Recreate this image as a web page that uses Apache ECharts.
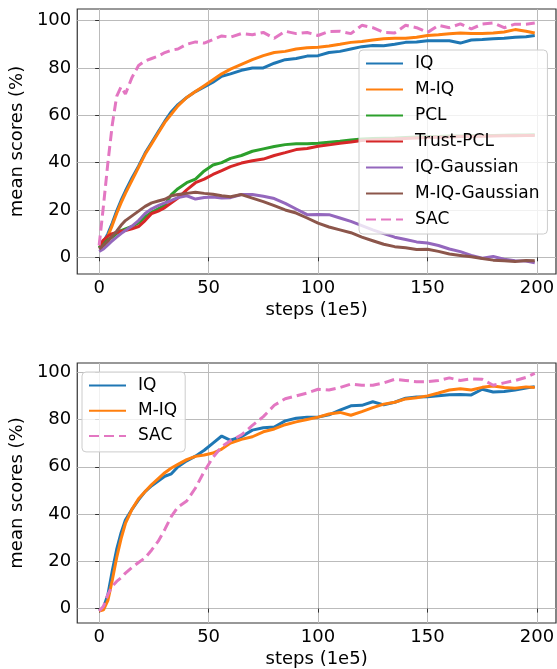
<!DOCTYPE html>
<html>
<head>
<meta charset="utf-8">
<script src="https://cdn.jsdelivr.net/npm/echarts@6/dist/echarts.min.js"></script>
<style>
  html, body { margin: 0; padding: 0; background: #fff; }
  #chart { width: 557px; height: 669px; }
</style>
</head>
<body>
<div id="chart"></div>
<script type="text/javascript">
    // shared step grid (1e5 steps) for both panels
    var steps = [0, 2, 4, 6, 8, 10, 12, 15, 18, 21, 24, 27, 30, 33, 36, 40, 44, 48, 52, 56, 60, 65, 70, 75, 80,
                 85, 90, 95, 100, 105, 110, 115, 120, 125, 130, 135, 140, 145, 150, 155, 160, 165, 170, 175, 180,
                 185, 190, 195, 199];

    var xTicks = [0, 50, 100, 150, 200];
    var yTicks = [0, 20, 40, 60, 80, 100];

    // top panel
    var topIQ = [4, 6.5, 10, 14.5, 19.5, 24, 28, 33.5, 38.5, 44, 48.5, 53, 57.5, 61.5, 64.5, 67.5, 70, 72, 74, 76.5, 77.5,
                 79, 80, 80, 82, 83.5, 84, 85, 85.2, 86.5, 87, 88, 89, 89.5, 89.4, 90, 90.8, 91, 91.5, 91.5, 91.5, 90.5,
                 91.8, 92, 92.3, 92.5, 93, 93.2, 93.7];
    var topMIQ = [4, 5.5, 9, 13.5, 18.5, 23, 27, 32.5, 38, 43.5, 48, 52.5, 57, 60.5, 64, 67.5, 70, 72.5, 75, 77.5, 79.5,
                  81.5, 83.5, 85.2, 86.5, 87, 88, 88.5, 88.7, 89.3, 90, 90.8, 91.2, 91.8, 92.3, 92.5, 92.5, 93, 93.7, 94,
                  94.4, 94.8, 94.6, 94.6, 94.8, 95.2, 96.2, 95.5, 94.8];
    var topPCL = [4, 6, 7.5, 8.5, 10, 11.3, 12, 13, 14.5, 17, 19, 20.5, 22, 26.5, 29, 31.5, 33, 36.5, 39, 40, 41.8,
                  43, 44.8, 45.8, 46.8, 47.6, 48, 48, 48.2, 48.6, 49, 49.6, 50, 50.2, 50.3, 50.4, 50.6, 50.8, 51, 51,
                  51.2, 51.2, 51.3, 51.4, 51.5, 51.6, 51.7, 51.7, 51.8];
    var topTrustPCL = [5, 7.3, 9, 10, 10.5, 11, 11.3, 12, 13, 15.5, 18.5, 19.5, 21, 23, 25, 28.5, 31.5, 33, 35, 36.6,
                       38.3, 39.8, 40.8, 41.5, 43, 44.2, 45.5, 46, 46.9, 47.5, 48.2, 48.7, 49.3, 49.6, 49.8, 50, 50.2,
                       50.4, 50.6, 50.7, 50.8, 51, 51, 51.1, 51.2, 51.3, 51.4, 51.5, 51.5];
    var topIQGauss = [2.5, 3.5, 5.2, 7, 8.5, 10, 11.3, 13.2, 15.5, 18.5, 20.5, 21.8, 23, 24, 25.2, 26, 24.6, 25.3, 25.5,
                      25, 25.2, 26.5, 26.5, 25.8, 24.8, 22.8, 20.4, 18, 18.1, 18, 16.6, 15.2, 13.4, 11.6, 10, 8.5, 7.5,
                      6.5, 6, 5, 3.5, 2.4, 0.8, -0.4, 0.3, -0.8, -1.5, -1.6, -2.3];
    var topMIQGauss = [3.5, 5, 6.8, 9, 11, 13.5, 15.5, 17.5, 19.5, 21.5, 23, 23.8, 24.5, 26, 26.5, 27, 27.5, 27, 26.6,
                       26, 25.6, 26.5, 25, 23.5, 21.8, 20, 18.7, 16.6, 14.4, 12.8, 11.6, 10.4, 8.5, 7, 5.5, 4.5, 4,
                       3.3, 3.4, 2.5, 1.4, 0.8, 0.2, -0.5, -1.2, -1.5, -1.8, -1.4, -1.5];
    var topSAC = [5, 22, 40, 56, 68, 72, 69, 76, 81, 83, 84, 85, 86.5, 87.5, 88, 90, 91, 90.5, 92, 93.5, 93, 94.5, 94,
                  95, 92.5, 95.5, 94.5, 95, 93.7, 95.4, 95.5, 94.5, 98, 97, 95, 94.8, 98, 97, 95, 98, 97, 98.6, 96.5,
                  98.5, 99, 97, 98.5, 98.5, 99];

    // bottom panel
    var botIQ = [-1, 0.5, 6, 16, 25, 32, 37.5, 42, 46, 49.5, 52, 54, 56, 57, 60, 62.5, 64.5, 67, 70, 73, 71.2, 72.7,
                 75.5, 76.5, 76.8, 79.4, 80.5, 81, 81, 82, 84, 85.8, 86, 87.5, 86.2, 87.3, 89, 89.5, 89.6, 90, 90.5,
                 90.6, 90.4, 92.8, 91.6, 91.8, 92.5, 93.3, 93.9];
    var botMIQ = [-1, -0.5, 3.5, 12, 21.5, 29.5, 36, 42, 46.5, 49.5, 52.5, 55, 57.5, 59.5, 61, 63, 64.4, 65, 65.8, 67.5,
                  70, 71.6, 72.7, 74.8, 76, 77.8, 79, 80, 81, 82.3, 83, 81.8, 83.3, 85, 86.5, 87.3, 88.7, 89.2, 90,
                  91.2, 92.5, 93, 92.5, 93.6, 94.2, 93.5, 93.2, 93.8, 93.5];
    var botSAC = [-1, 1, 6, 9.5, 11.5, 13, 15, 17.4, 19.5, 21.5, 24.8, 28.5, 33.5, 39, 43, 45.5, 51, 58, 64, 68.5, 71,
                  73.5, 77.5, 81.2, 86, 88.8, 90, 91.2, 92.8, 92.5, 93.5, 95, 94.5, 94.5, 95.5, 97, 96.5, 96, 96,
                  96.5, 97.6, 96.5, 97.2, 97, 94.5, 95.5, 96.5, 97.8, 99.5];

    var FONT = 'DejaVu Sans';
    var colors = {
        'IQ': '#1f77b4', 'M-IQ': '#ff7f0e', 'PCL': '#2ca02c', 'Trust-PCL': '#d62728',
        'IQ-Gaussian': '#9467bd', 'M-IQ-Gaussian': '#8c564b', 'SAC': '#e377c2'
    };

    function pairs(ys){
        var out = [];
        for(var i = 0; i < steps.length; i++){
            out.push([steps[i], ys[i]]);
        }
        return out;
    }

    function makeSeries(name, ys, idx){
        return {
            name: name,
            type: 'line',
            xAxisIndex: idx,
            yAxisIndex: idx,
            data: pairs(ys),
            showSymbol: false,
            symbol: 'none',
            clip: true,
            color: colors[name],
            lineStyle: {
                color: colors[name],
                width: 3,
                type: name === 'SAC' ? [10, 5] : 'solid'
            }
        };
    }

    function makeX(idx){
        return {
            type: 'value',
            gridIndex: idx,
            min: -10,
            max: 208.7,
            name: 'steps (1e5)',
            nameLocation: 'middle',
            nameGap: 27,
            nameTextStyle: { fontFamily: FONT, fontSize: 18, color: '#000', verticalAlign: 'top' },
            axisLine: { show: false },
            axisTick: { show: true, inside: false, length: 4, customValues: xTicks, lineStyle: { color: '#333' } },
            axisLabel: { customValues: xTicks, margin: 5, fontFamily: FONT, fontSize: 18, color: '#000' },
            splitLine: { show: true, lineStyle: { color: '#bbbbbb', width: 1 } }
        };
    }

    function makeY(idx, lo, hi){
        return {
            type: 'value',
            gridIndex: idx,
            min: lo,
            max: hi,
            name: 'mean scores (%)',
            nameLocation: 'middle',
            nameGap: 44,
            nameTextStyle: { fontFamily: FONT, fontSize: 18, color: '#000' },
            axisLine: { show: false },
            axisTick: { show: true, inside: false, length: 4, customValues: yTicks, lineStyle: { color: '#333' } },
            axisLabel: { customValues: yTicks, margin: 6, fontFamily: FONT, fontSize: 18, color: '#000' },
            splitLine: { show: true, lineStyle: { color: '#bbbbbb', width: 1 } }
        };
    }

    var legendText = { fontFamily: FONT, fontSize: 17, color: '#000', lineHeight: 20, padding: [0, 0, 0, 7] };

    var chart = echarts.init(document.getElementById('chart'), null, { renderer: 'canvas' });
    chart.setOption({
        animation: false,
        backgroundColor: '#fff',
        grid: [
            { left: 73, top: 9, width: 483, height: 265, show: true, borderColor: '#333', borderWidth: 1.2, backgroundColor: 'transparent' },
            { left: 73, top: 363, width: 483, height: 265, show: true, borderColor: '#333', borderWidth: 1.2, backgroundColor: 'transparent' }
        ],
        xAxis: [makeX(0), makeX(1)],
        yAxis: [makeY(0, -7.06, 104.9), makeY(1, -6.1, 103.9)],
        legend: [
            {
                left: 359, top: 50, orient: 'vertical',
                data: ['IQ', 'M-IQ', 'PCL', 'Trust-PCL', 'IQ-Gaussian', 'M-IQ-Gaussian', 'SAC'],
                itemWidth: 37, itemHeight: 14, itemGap: 6,
                padding: [3.5, 8, 4.5, 6],
                itemStyle: { opacity: 0 },
                backgroundColor: 'rgba(255,255,255,0.8)',
                borderColor: '#cccccc', borderWidth: 1, borderRadius: 4,
                textStyle: legendText,
                selectedMode: false
            },
            {
                left: 82, top: 372, orient: 'vertical',
                data: ['IQ', 'M-IQ', 'SAC'],
                itemWidth: 37, itemHeight: 14, itemGap: 5.2,
                padding: [3.5, 8, 6, 6],
                itemStyle: { opacity: 0 },
                backgroundColor: 'rgba(255,255,255,0.8)',
                borderColor: '#cccccc', borderWidth: 1, borderRadius: 4,
                textStyle: legendText,
                selectedMode: false
            }
        ],
        series: [
            makeSeries('IQ', topIQ, 0),
            makeSeries('M-IQ', topMIQ, 0),
            makeSeries('PCL', topPCL, 0),
            makeSeries('Trust-PCL', topTrustPCL, 0),
            makeSeries('IQ-Gaussian', topIQGauss, 0),
            makeSeries('M-IQ-Gaussian', topMIQGauss, 0),
            makeSeries('SAC', topSAC, 0),
            makeSeries('IQ', botIQ, 1),
            makeSeries('M-IQ', botMIQ, 1),
            makeSeries('SAC', botSAC, 1)
        ]
    });
</script>
</body>
</html>
